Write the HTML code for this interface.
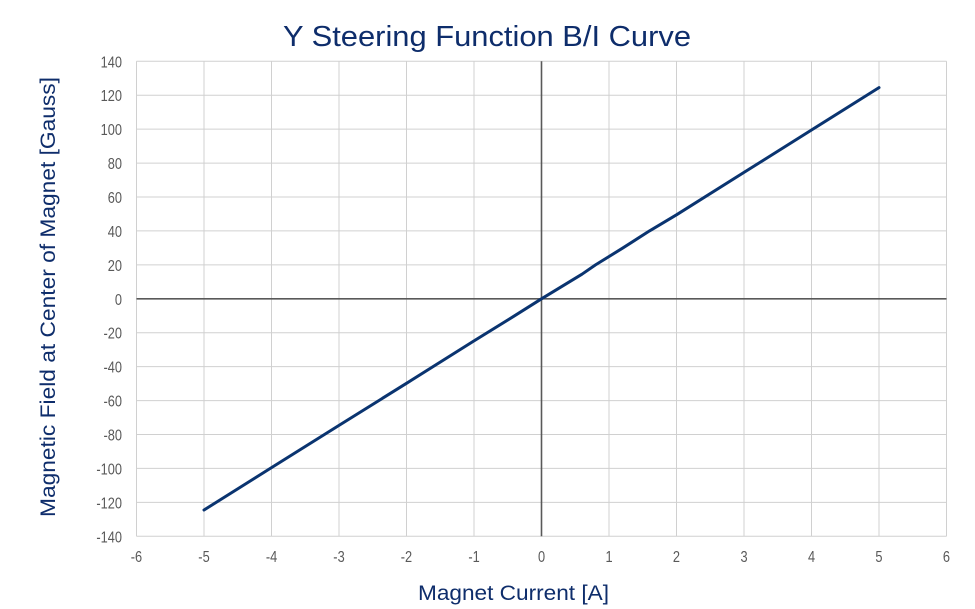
<!DOCTYPE html>
<html><head><meta charset="utf-8"><style>
html,body{margin:0;padding:0;background:#fff;}
svg{display:block;}
</style></head><body>
<svg width="975" height="609" viewBox="0 0 975 609" xmlns="http://www.w3.org/2000/svg" font-family="'Liberation Sans', sans-serif">
<rect width="975" height="609" fill="#fff"/>
<g stroke="#d0d0d0" stroke-width="1" fill="none">
<line x1="136.5" y1="61.3" x2="136.5" y2="536.3"/>
<line x1="204" y1="61.3" x2="204" y2="536.3"/>
<line x1="271.5" y1="61.3" x2="271.5" y2="536.3"/>
<line x1="339" y1="61.3" x2="339" y2="536.3"/>
<line x1="406.5" y1="61.3" x2="406.5" y2="536.3"/>
<line x1="474" y1="61.3" x2="474" y2="536.3"/>
<line x1="609" y1="61.3" x2="609" y2="536.3"/>
<line x1="676.5" y1="61.3" x2="676.5" y2="536.3"/>
<line x1="744" y1="61.3" x2="744" y2="536.3"/>
<line x1="811.5" y1="61.3" x2="811.5" y2="536.3"/>
<line x1="879" y1="61.3" x2="879" y2="536.3"/>
<line x1="946.5" y1="61.3" x2="946.5" y2="536.3"/>
<line x1="136.5" y1="61.3" x2="946.5" y2="61.3"/>
<line x1="136.5" y1="95.2" x2="946.5" y2="95.2"/>
<line x1="136.5" y1="129.1" x2="946.5" y2="129.1"/>
<line x1="136.5" y1="163.1" x2="946.5" y2="163.1"/>
<line x1="136.5" y1="197" x2="946.5" y2="197"/>
<line x1="136.5" y1="230.9" x2="946.5" y2="230.9"/>
<line x1="136.5" y1="264.9" x2="946.5" y2="264.9"/>
<line x1="136.5" y1="332.7" x2="946.5" y2="332.7"/>
<line x1="136.5" y1="366.6" x2="946.5" y2="366.6"/>
<line x1="136.5" y1="400.6" x2="946.5" y2="400.6"/>
<line x1="136.5" y1="434.5" x2="946.5" y2="434.5"/>
<line x1="136.5" y1="468.4" x2="946.5" y2="468.4"/>
<line x1="136.5" y1="502.4" x2="946.5" y2="502.4"/>
<line x1="136.5" y1="536.3" x2="946.5" y2="536.3"/>
</g>
<g stroke="#595959" stroke-width="1.6">
<line x1="136.5" y1="298.8" x2="946.5" y2="298.8"/>
<line x1="541.5" y1="61.3" x2="541.5" y2="536.3"/>
</g>
<g font-size="16" fill="#595959" text-anchor="end" transform="scale(0.8,1)">
<text x="152.5" y="67.3">140</text>
<text x="152.5" y="101.2">120</text>
<text x="152.5" y="135.1">100</text>
<text x="152.5" y="169.1">80</text>
<text x="152.5" y="203">60</text>
<text x="152.5" y="236.9">40</text>
<text x="152.5" y="270.9">20</text>
<text x="152.5" y="304.8">0</text>
<text x="152.5" y="338.7">-20</text>
<text x="152.5" y="372.6">-40</text>
<text x="152.5" y="406.6">-60</text>
<text x="152.5" y="440.5">-80</text>
<text x="152.5" y="474.4">-100</text>
<text x="152.5" y="508.4">-120</text>
<text x="152.5" y="542.3">-140</text>
</g>
<g font-size="16" fill="#595959" text-anchor="middle" transform="scale(0.8,1)">
<text x="170.6" y="562">-6</text>
<text x="255" y="562">-5</text>
<text x="339.4" y="562">-4</text>
<text x="423.75" y="562">-3</text>
<text x="508.1" y="562">-2</text>
<text x="592.5" y="562">-1</text>
<text x="676.9" y="562">0</text>
<text x="761.25" y="562">1</text>
<text x="845.6" y="562">2</text>
<text x="930" y="562">3</text>
<text x="1014.4" y="562">4</text>
<text x="1098.75" y="562">5</text>
<text x="1183.1" y="562">6</text>
</g>
<polyline fill="none" stroke="#0a3470" stroke-width="3" stroke-linejoin="round" stroke-linecap="round"
points="204,510 271.5,467.6 339,425.4 406.5,383.3 474,340.9 514.5,315.8 528,307.3 541.5,298.8 582,274.2 595.5,264.9 622.5,248.2 649.5,230.9 676.5,214.8 744,172.4 811.5,130 879,87.6"/>
<text x="487" y="46" font-size="29" fill="#0e2d6b" text-anchor="middle" textLength="408" lengthAdjust="spacingAndGlyphs">Y Steering Function B/I Curve</text>
<text x="513.5" y="600" font-size="21" fill="#0e2d6b" text-anchor="middle" textLength="191" lengthAdjust="spacingAndGlyphs">Magnet Current [A]</text>
<text transform="translate(55,297) rotate(-90)" x="0" y="0" font-size="21" fill="#0e2d6b" text-anchor="middle" textLength="440" lengthAdjust="spacingAndGlyphs">Magnetic Field at Center of Magnet [Gauss]</text>
</svg>
</body></html>
